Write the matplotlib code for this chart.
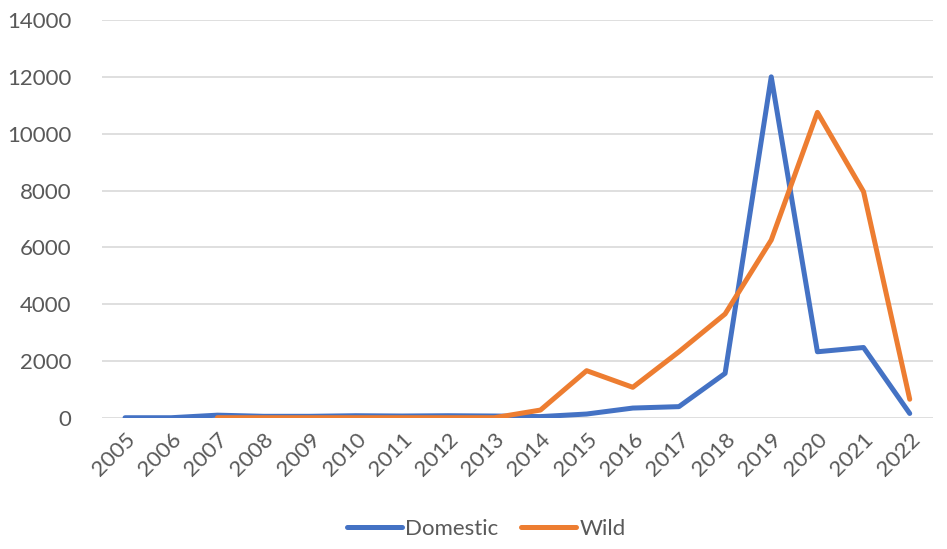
import numpy as np
import matplotlib.pyplot as plt

# Dados por ano
anos = [str(a) for a in range(2005, 2023)]
domestico = [10, 10, 100, 60, 60, 80, 70, 80, 70, 50, 140, 350, 400, 1570, 12000, 2330, 2480, 160]
# Wild começa em 2007
selvagem = [np.nan, np.nan, 10, 10, 10, 10, 10, 10, 10, 280, 1665, 1080, 2330, 3660, 6260, 10750, 7960, 660]

plt.rcParams['font.family'] = ['Lato', 'DejaVu Sans']

fig = plt.figure(figsize=(9.47, 5.49), dpi=100)
ax = fig.add_axes([0.1077, 0.2386, 0.8773, 0.725])

x = np.arange(len(anos))
ax.plot(x, domestico, color='#4472C4', lw=3.6, solid_capstyle='round', solid_joinstyle='round', label='Domestic')
ax.plot(x, selvagem, color='#ED7D31', lw=3.6, solid_capstyle='round', solid_joinstyle='round', label='Wild')

ax.set_xlim(-0.5, len(anos) - 0.5)
ax.set_ylim(0, 14000)
ax.set_yticks(range(0, 14001, 2000))
ax.set_xticks(x)
ax.set_xticklabels(anos, rotation=45, ha='right', rotation_mode='anchor')
ax.tick_params(axis='both', length=0, labelsize=16, labelcolor='#595959')
ax.tick_params(axis='y', pad=22)
ax.tick_params(axis='x', pad=8)

ax.grid(axis='y', color='#D9D9D9', lw=1.2)
ax.set_axisbelow(True)
for s in ax.spines.values():
    s.set_visible(False)

leg = fig.legend(loc='center', bbox_to_anchor=(0.5135, 0.037), ncol=2, frameon=False,
                 fontsize=16, handlelength=2.5, columnspacing=1.0, handletextpad=0.15)
for t in leg.get_texts():
    t.set_color('#595959')

fig.savefig('out.png', dpi=100)
